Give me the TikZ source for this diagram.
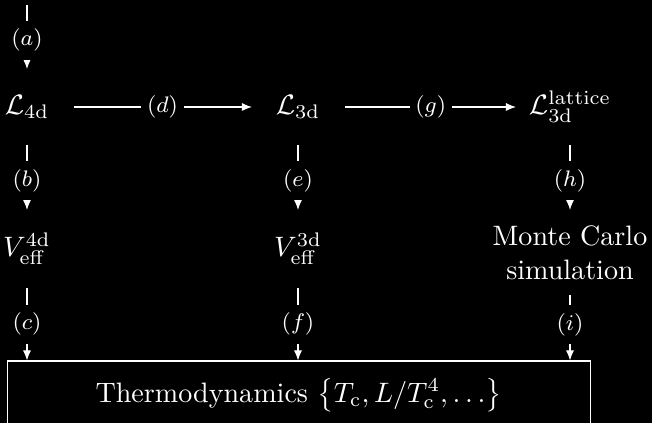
\documentclass[tikz,border=0pt]{standalone}
\usetikzlibrary{arrows.meta}
\begin{document}
\begin{tikzpicture}[x=0.3559pt,y=-0.3559pt,
  every node/.style={text=white},
  mainnode/.style={inner sep=0pt, outer sep=0pt},
  lrow/.style={mainnode, minimum height=27pt},
  vrow/.style={mainnode, minimum height=27.8pt},
  arr/.style={draw=white, line width=0.4pt, -{Latex[length=3.6pt,width=2.9pt]}},
  lab/.style={fill=black, inner xsep=2pt, inner ysep=3pt, font=\footnotesize, text=white}]
\fill[black] (0,0) rectangle (652,423);
\useasboundingbox (0,0) rectangle (652,423);
% nodes
\coordinate (top) at (27,5);
\node[lrow] (L4d) at (27,107) {$\mathcal{L}_{\rm 4d}$};
\node[lrow] (L3d) at (298,107) {$\mathcal{L}_{\rm 3d}$};
\node[lrow] (Llat) at (570,107) {$\mathcal{L}_{\rm 3d}^{\rm lattice}$};
\node[vrow] (V4d) at (27,249) {$V_{\rm eff}^{\rm 4d}$};
\node[vrow] (V3d) at (298,249) {$V_{\rm eff}^{\rm 3d}$};
\node[mainnode, align=center, minimum height=30.3pt] (MC) at (570,252.5) {Monte Carlo\\simulation};
\node[draw=white, line width=0.4pt, minimum width=207.4pt, minimum height=24.2pt, inner sep=0pt] (thermo) at (298.7,395)
  {Thermodynamics $\left\{T_{\rm c}, L/T_{\rm c}^4, \dots\right\}$};
% horizontal connectors
\draw[arr, shorten <=8.9pt, shorten >=8.5pt] (L4d) -- node[lab]{$(d)$} (L3d);
\draw[arr, shorten <=8.9pt, shorten >=4.6pt] (L3d) -- node[lab, pos=0.53]{$(g)$} (Llat);
% vertical connectors
\draw[arr] (top) -- node[lab, pos=0.55]{$(a)$} (L4d);
\draw[arr] (L4d) -- node[lab, pos=0.55]{$(b)$} (V4d);
\draw[arr] (L3d) -- node[lab, pos=0.55]{$(e)$} (V3d);
\draw[arr] (Llat) -- node[lab, pos=0.55]{$(h)$} (MC);
\draw[arr] (V4d) -- node[lab]{$(c)$} (V4d |- thermo.north);
\draw[arr] (V3d) -- node[lab]{$(f)$} (V3d |- thermo.north);
\draw[arr] (MC) -- node[lab, pos=0.45]{$(i)$} (MC |- thermo.north);
\end{tikzpicture}
\end{document}
